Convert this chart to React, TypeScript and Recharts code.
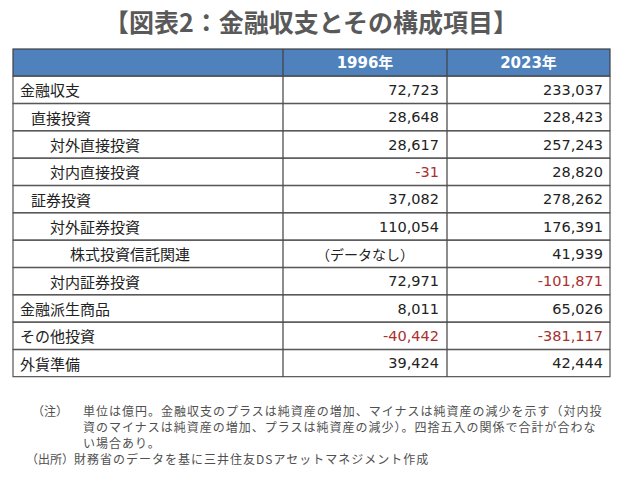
import { BarChart, Bar, XAxis, YAxis } from "recharts"

// 行ラベルと階層（インデント）
const rowLabels = [
  "金融収支",
  "直接投資",
  "対外直接投資",
  "対内直接投資",
  "証券投資",
  "対外証券投資",
  "株式投資信託関連",
  "対内証券投資",
  "金融派生商品",
  "その他投資",
  "外貨準備",
]
const rowLevels = [0, 1, 2, 2, 1, 2, 3, 2, 0, 0, 0]

// 単位：億円（null はデータなし）
const years = ["1996年", "2023年"]
const values1996: (number | null)[] = [72723, 28648, 28617, -31, 37082, 110054, null, 72971, 8011, -40442, 39424]
const values2023: (number | null)[] = [233037, 228423, 257243, 28820, 278262, 176391, 41939, -101871, 65026, -381117, 42444]

const title = "【図表2：金融収支とその構成項目】"
const noteLines = [
  "単位は億円。金融収支のプラスは純資産の増加、マイナスは純資産の減少を示す（対内投",
  "資のマイナスは純資産の増加、プラスは純資産の減少）。四捨五入の関係で合計が合わな",
  "い場合あり。",
]
const sourceText = "財務省のデータを基に三井住友DSアセットマネジメント作成"

const tableData = [
  { key: "header", label: "", level: 0, v1: null, v2: null, header: true, span: 1 },
  ...rowLabels.map((label, i) => ({
    key: label,
    label,
    level: rowLevels[i],
    v1: values1996[i],
    v2: values2023[i],
    header: false,
    span: 1,
  })),
]

const W = 632
const H = 483
const INDENT = [7, 18, 37, 57]
const LINE = "#555555"
const RED = "#a8302f"
const JP = "'Noto Sans CJK JP', 'Noto Sans', sans-serif"
const NUM = "'DejaVu Sans', 'Noto Sans CJK JP', sans-serif"

const fmt = (v: number | null) => (v === null ? "（データなし）" : v.toLocaleString("en-US"))

function TableRow(props: any) {
  const { x, y, width, height, payload } = props
  const c1 = x + width * (270 / 597)
  const c2 = x + width * (434 / 597)
  const right = x + width
  const cy = y + height / 2
  if (payload.header) {
    return (
      <g>
        <rect x={x} y={y} width={width} height={height} fill="#4f81bd" stroke="#404040" strokeWidth={1.2} />
        <line x1={c1} x2={c1} y1={y} y2={y + height} stroke="#404040" strokeWidth={1.2} />
        <line x1={c2} x2={c2} y1={y} y2={y + height} stroke="#404040" strokeWidth={1.2} />
        <text x={(c1 + c2) / 2} y={cy} fill="#fff" fontWeight="bold" fontSize={15} fontFamily={NUM} textAnchor="middle" dominantBaseline="central">
          {years[0]}
        </text>
        <text x={(c2 + right) / 2} y={cy} fill="#fff" fontWeight="bold" fontSize={15} fontFamily={NUM} textAnchor="middle" dominantBaseline="central">
          {years[1]}
        </text>
      </g>
    )
  }
  const valText = (v: number | null, rx: number, center: number) =>
    v === null ? (
      <text x={center} y={cy} fill="#222" fontSize={14} fontFamily={JP} textAnchor="middle" dominantBaseline="central">
        {fmt(v)}
      </text>
    ) : (
      <text x={rx} y={cy} fill={v < 0 ? RED : "#222"} fontSize={14.5} fontFamily={NUM} textAnchor="end" dominantBaseline="central">
        {fmt(v)}
      </text>
    )
  return (
    <g>
      <rect x={x} y={y} width={width} height={height} fill="#fff" stroke={LINE} strokeWidth={1.2} />
      <line x1={c1} x2={c1} y1={y} y2={y + height} stroke="#404040" strokeWidth={1.2} />
      <line x1={c2} x2={c2} y1={y} y2={y + height} stroke="#404040" strokeWidth={1.2} />
      <text x={x + INDENT[payload.level]} y={cy} fill="#222" fontSize={15} fontFamily={JP} dominantBaseline="central">
        {payload.label}
      </text>
      {valText(payload.v1, c2 - 8, (c1 + c2) / 2)}
      {valText(payload.v2, right - 7, (c2 + right) / 2)}
    </g>
  )
}

export default function App() {
  return (
    <div style={{ position: "relative", width: W, height: H, background: "#fff" }}>
      <div
        style={{
          position: "absolute",
          left: 0,
          top: -3,
          width: 606,
          textAlign: "center",
          fontFamily: JP,
          fontWeight: "bold",
          fontSize: 25,
          color: "#595959",
          lineHeight: "32px",
          whiteSpace: "nowrap",
        }}
      >
        {title}
      </div>
      <BarChart
        width={W}
        height={H}
        data={tableData}
        layout="vertical"
        margin={{ top: 41, right: 30, bottom: 114, left: 5 }}
        barCategoryGap={0}
      >
        <XAxis type="number" domain={[0, 1]} hide />
        <YAxis type="category" dataKey="key" hide />
        <Bar dataKey="span" isAnimationActive={false} shape={TableRow} />
      </BarChart>
      <div
        style={{
          position: "absolute",
          left: 0,
          top: 395,
          width: 624,
          fontFamily: JP,
          fontSize: 12,
          letterSpacing: 1,
          color: "#505050",
          lineHeight: "16px",
        }}
      >
        <div style={{ display: "flex" }}>
          <div style={{ width: 51, paddingLeft: 24, whiteSpace: "nowrap", letterSpacing: 0 }}>（注）</div>
          <div>
            {noteLines.map((l) => (
              <div key={l} style={{ whiteSpace: "nowrap" }}>
                {l}
              </div>
            ))}
          </div>
        </div>
        <div style={{ display: "flex" }}>
          <div style={{ paddingLeft: 18, whiteSpace: "nowrap", letterSpacing: 0 }}>（出所）</div>
          <div style={{ whiteSpace: "nowrap" }}>{sourceText}</div>
        </div>
      </div>
    </div>
  )
}
